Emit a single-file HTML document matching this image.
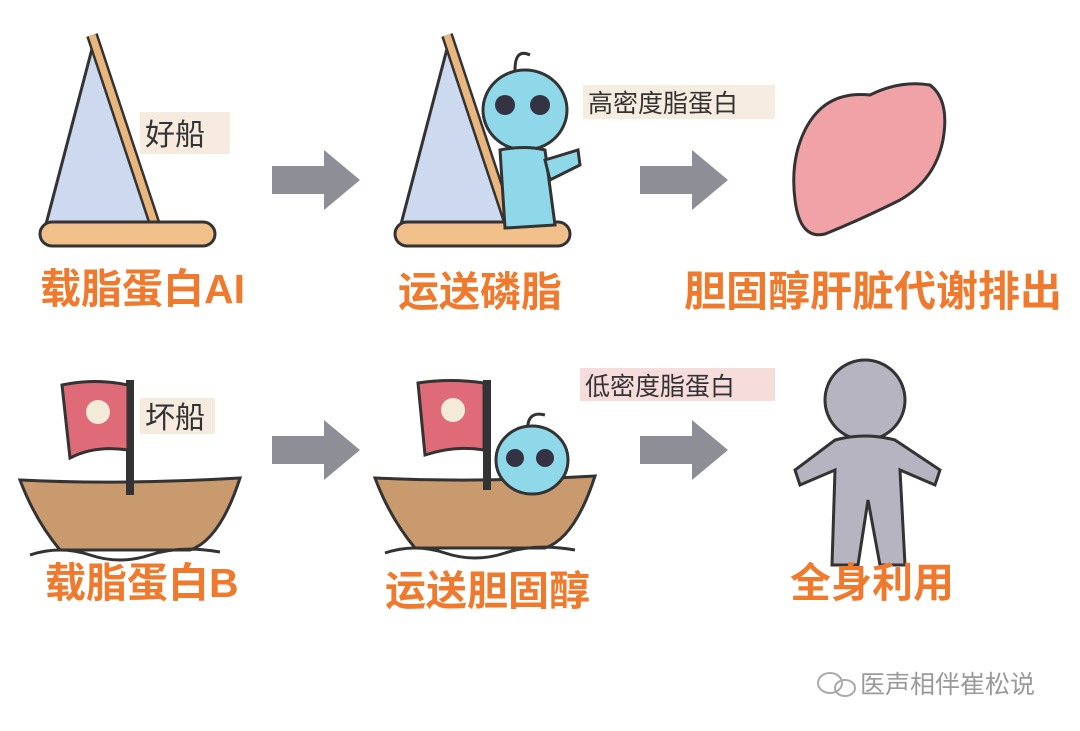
<!DOCTYPE html>
<html><head><meta charset="utf-8"><style>
html,body{margin:0;padding:0;background:#fff;}
svg{display:block}
.lab{font-family:"Liberation Sans","Noto Sans CJK SC",sans-serif;font-weight:bold;fill:#ef7a2e;font-size:41px}
.tag{font-family:"Liberation Sans","Noto Sans CJK SC",sans-serif;fill:#333;font-size:25px}
</style></head><body>
<svg width="1080" height="731" viewBox="0 0 1080 731" xmlns="http://www.w3.org/2000/svg">
<rect width="1080" height="731" fill="#fff"/>
<defs>
<g id="arrow"><polygon points="0,-14 52,-14 52,-30 88,0 52,30 52,14 0,14" fill="#8e8e96"/></g>
<g id="sail">
  <polygon points="93,45 45,228 152,225" fill="#cdd9ef" stroke="#333" stroke-width="3"/>
  <line x1="92" y1="35" x2="155" y2="225" stroke="#333" stroke-width="12"/>
  <line x1="92" y1="35" x2="155" y2="225" stroke="#e9b77d" stroke-width="7"/>
  <rect x="40" y="222" width="175" height="24" rx="12" fill="#f1c08a" stroke="#333" stroke-width="3"/>
</g>
<g id="ship">
  <path d="M0,480 Q100,485 220,478 Q200,540 170,550 L40,550 Q15,520 0,480Z" fill="#c99a6e" stroke="#333" stroke-width="3"/>
  <path d="M10,555 Q40,545 70,555 T130,555 T200,552" fill="none" stroke="#333" stroke-width="3"/>
</g>
</defs>
<!-- Row 1 -->
<use href="#sail" x="0" y="0"/>
<rect x="140" y="112" width="90" height="42" fill="#f7ebe0"/>
<text class="tag" x="145" y="145" style="font-size:30px">好船</text>
<text class="lab" x="40" y="303">载脂蛋白AI</text>
<use href="#arrow" x="272" y="180"/>
<use href="#sail" x="355" y="0"/>
<g>
  <path d="M515,70 Q515,48 530,55" fill="none" stroke="#333" stroke-width="3"/>
  <ellipse cx="525" cy="110" rx="42" ry="40" fill="#8fd8ea" stroke="#333" stroke-width="3"/>
  <circle cx="505" cy="105" r="10" fill="#334"/><circle cx="540" cy="105" r="10" fill="#334"/>
  <path d="M500,150 Q525,145 545,150 L555,225 L505,228 Z" fill="#8fd8ea" stroke="#333" stroke-width="3"/>
  <path d="M545,160 L578,150 L580,165 L550,180Z" fill="#8fd8ea" stroke="#333" stroke-width="3"/>
</g>
<rect x="583" y="85" width="192" height="34" fill="#f6ece0"/>
<text class="tag" x="588" y="112">高密度脂蛋白</text>
<text class="lab" x="398" y="306">运送磷脂</text>
<use href="#arrow" x="640" y="180"/>
<path d="M805,130 Q825,90 870,95 Q900,80 930,85 Q950,100 943,140 Q935,180 900,200 Q860,220 825,234 Q800,240 795,200 Q790,160 805,130Z" fill="#f0a2a6" stroke="#333" stroke-width="3"/>
<text class="lab" x="684" y="306" style="font-size:42px">胆固醇肝脏代谢排出</text>
<!-- Row 2 -->
<use href="#ship" x="20" y="0"/>
<line x1="130" y1="380" x2="130" y2="495" stroke="#333" stroke-width="8"/>
<path d="M62,385 Q95,378 128,385 L128,450 Q95,445 70,458 Z" fill="#e06b78" stroke="#333" stroke-width="3"/>
<circle cx="98" cy="412" r="12" fill="#f3ead8"/>
<rect x="140" y="398" width="75" height="36" fill="#f7ebe0"/>
<text class="tag" x="145" y="428" style="font-size:30px">坏船</text>
<text class="lab" x="45" y="597">载脂蛋白B</text>
<use href="#arrow" x="272" y="450"/>
<use href="#ship" x="375" y="-2"/>
<line x1="487" y1="380" x2="487" y2="490" stroke="#333" stroke-width="8"/>
<path d="M418,383 Q450,378 484,383 L484,450 Q455,445 425,455 Z" fill="#e06b78" stroke="#333" stroke-width="3"/>
<circle cx="453" cy="410" r="12" fill="#f3ead8"/>
<path d="M528,435 Q525,410 545,415" fill="none" stroke="#333" stroke-width="3"/>
<ellipse cx="532" cy="460" rx="36" ry="34" fill="#8fd8ea" stroke="#333" stroke-width="3"/>
<circle cx="515" cy="458" r="9" fill="#334"/><circle cx="545" cy="458" r="9" fill="#334"/>
<rect x="580" y="368" width="195" height="33" fill="#f7dcdc"/>
<text class="tag" x="585" y="395">低密度脂蛋白</text>
<text class="lab" x="385" y="605">运送胆固醇</text>
<use href="#arrow" x="640" y="450"/>
<g fill="#b7b4c2" stroke="#333" stroke-width="3">
  <ellipse cx="865" cy="400" rx="40" ry="40"/>
  <path d="M835,440 Q865,432 895,440 L940,470 L935,485 L900,470 L905,565 L880,565 L868,500 L858,565 L832,565 L835,470 L800,485 L795,470 Z"/>
</g>
<text class="lab" x="790" y="597">全身利用</text>
<g fill="none" stroke="#aaa" stroke-width="2"><ellipse cx="830" cy="683" rx="12" ry="10"/><ellipse cx="845" cy="688" rx="10" ry="8"/></g>
<text x="860" y="693" style="font-family:'Liberation Sans','Noto Sans CJK SC',sans-serif;font-size:25px;fill:#9a9a9a">医声相伴崔松说</text>
</svg>
</body></html>
